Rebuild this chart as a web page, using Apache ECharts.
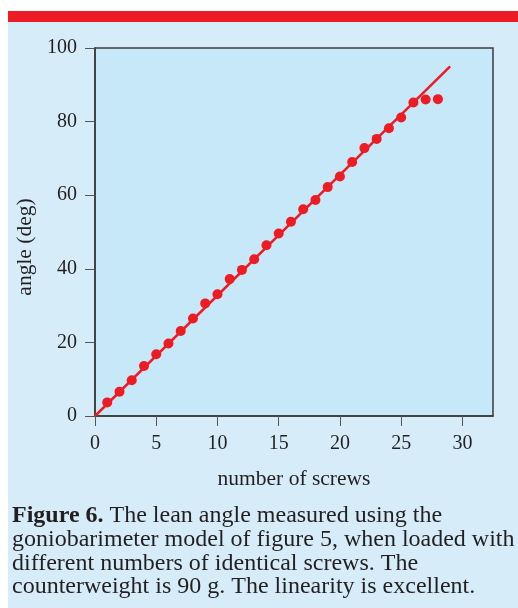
<!DOCTYPE html>
<html>
<head>
<meta charset="utf-8">
<script src="https://cdn.jsdelivr.net/npm/echarts@6/dist/echarts.min.js"></script>
<style>
  html, body { margin: 0; padding: 0; background: #ffffff; }
  #chart { width: 518px; height: 608px; }
</style>
</head>
<body>
<div id="chart"></div>
<script>
// measured angles per number of screws
var screws = [1, 2, 3, 4, 5, 6, 7, 8, 9, 10, 11, 12, 13, 14, 15, 16, 17, 18, 19, 20, 21, 22, 23, 24, 25, 26, 27, 28];
var angles = [3.7, 6.6, 9.7, 13.6, 16.8, 19.7, 23.1, 26.5, 30.6, 33.1, 37.2, 39.7, 42.6, 46.4, 49.6, 52.8,
              56.2, 58.7, 62.2, 65.1, 69.0, 72.8, 75.3, 78.2, 81.1, 85.2, 86.0, 86.1];
// straight fit line end points
var fitX = [0, 29];
var fitY = [0, 95];
var xTicks = [0, 5, 10, 15, 20, 25, 30];

var captionLines = [
    '{b|Figure 6.} The lean angle measured using the',
    'goniobarimeter model of figure 5, when loaded with',
    'different numbers of identical screws. The',
    'counterweight is 90 g. The linearity is excellent.'
];

var RED = '#ed1c24';
var INK = '#231f20';
var SERIF = '"Liberation Serif", "DejaVu Serif", serif';

var chart = echarts.init(document.getElementById('chart'));

var points = [];
for (var i = 0; i < screws.length; i++) {
    points.push([screws[i], angles[i]]);
}
var fitLine = [];
for (var j = 0; j < fitX.length; j++) {
    fitLine.push([fitX[j], fitY[j]]);
}

var option = {
    animation: false,
    backgroundColor: '#ffffff',
    graphic: [
        // panel background
        { type: 'rect', z: -10, silent: true, shape: { x: 8, y: 22, width: 510, height: 586 }, style: { fill: '#d6edf9' } },
        // red band at top
        { type: 'rect', z: -10, silent: true, shape: { x: 8, y: 11, width: 510, height: 11 }, style: { fill: RED } },
        {
            type: 'text', left: 12, top: 504, silent: true,
            style: {
                text: captionLines.join('\n'),
                font: '24px ' + SERIF,
                fill: INK,
                lineHeight: 23.7,
                rich: {
                    b: { fontWeight: 'bold', fontSize: 24, fontFamily: SERIF, fill: INK, lineHeight: 23.7 }
                }
            }
        }
    ],
    grid: {
        left: 95, top: 48, right: 25, bottom: 192,
        show: true,
        backgroundColor: '#c6e8f8',
        borderColor: '#3a3a3a',
        borderWidth: 1.5
    },
    xAxis: {
        type: 'value',
        min: 0, max: 32.5,
        name: 'number of screws',
        nameLocation: 'middle',
        nameGap: 52,
        nameTextStyle: { fontFamily: SERIF, fontSize: 21.5, color: INK },
        splitLine: { show: false },
        axisLine: { lineStyle: { color: '#3a3a3a', width: 1.5 } },
        axisTick: { length: 10, lineStyle: { color: '#555' }, customValues: xTicks },
        axisLabel: { fontFamily: SERIF, fontSize: 20, color: INK, margin: 18, customValues: xTicks }
    },
    yAxis: {
        type: 'value',
        min: 0, max: 100, interval: 20,
        name: 'angle (deg)',
        nameLocation: 'middle',
        nameGap: 52,
        nameTextStyle: { fontFamily: SERIF, fontSize: 21.5, color: INK, padding: [0, 30, 0, 0] },
        splitLine: { show: false },
        axisLine: { lineStyle: { color: '#3a3a3a', width: 1.5 } },
        axisTick: { length: 10, lineStyle: { color: '#555' } },
        axisLabel: { fontFamily: SERIF, fontSize: 20, color: INK, margin: 18 }
    },
    series: [
        {
            type: 'line',
            data: fitLine,
            showSymbol: false,
            symbol: 'none',
            lineStyle: { color: RED, width: 2.5 },
            z: 2
        },
        {
            type: 'scatter',
            data: points,
            symbolSize: 10,
            itemStyle: { color: RED, opacity: 1 },
            z: 3
        }
    ]
};

chart.setOption(option);
</script>
</body>
</html>
